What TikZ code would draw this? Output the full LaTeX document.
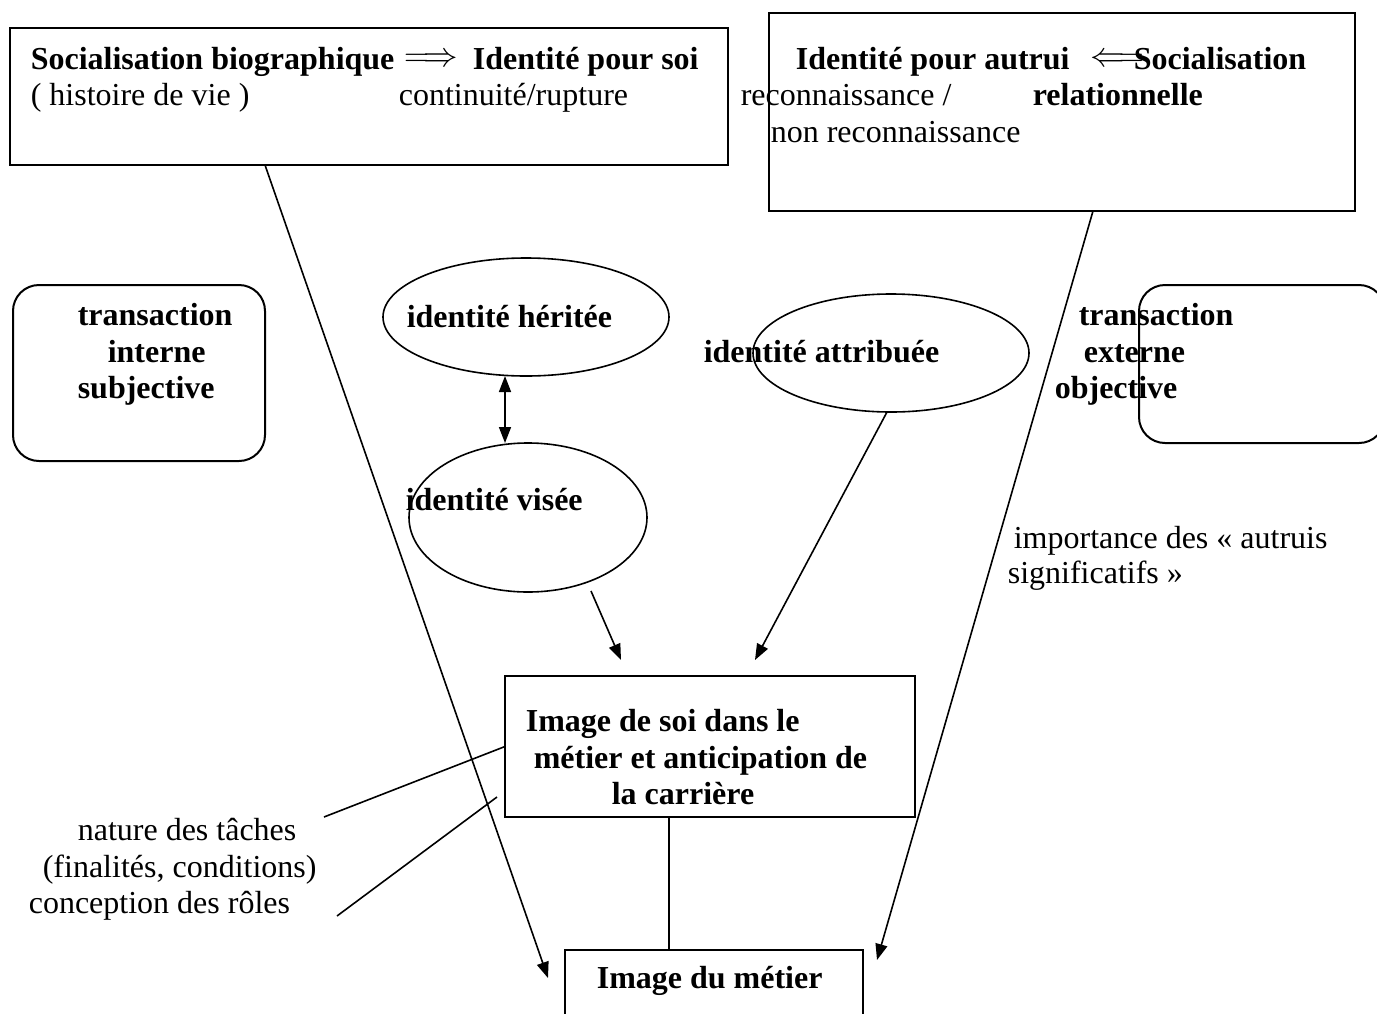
\documentclass[tikz,border=0pt]{standalone}
\usepackage{fontspec}
\setmainfont{Liberation Serif}
\usetikzlibrary{shapes.geometric,arrows.meta}
\begin{document}
\begin{tikzpicture}[x=0.5pt, y=-0.5pt, line width=0.8pt,
  >={Triangle[length=8pt,width=6pt]},
  box/.style={draw, line width=1pt, rectangle, outer sep=0pt},
  rbox/.style={draw, line width=1pt, rectangle, rounded corners=13pt, outer sep=0pt},
  oval/.style={draw, ellipse, outer sep=0pt},
  txt/.style={anchor=base west, inner sep=0pt, font=\fontsize{16pt}{18.5pt}\selectfont},
  bf/.style={txt, font=\fontsize{16pt}{18.5pt}\selectfont\bfseries}]
\useasboundingbox (0,0) rectangle (1377,1013);
% frames
\node[box, minimum width=359pt, minimum height=68.5pt] (bio) at (369,96.5) {};
\node[box, minimum width=293pt, minimum height=99pt] (autrui) at (1062,112) {};
\node[rbox, minimum width=126pt, minimum height=88pt] (tinterne) at (139,373) {};
\node[rbox, minimum width=123pt, minimum height=79pt] (texterne) at (1262,364) {};
\node[oval, minimum width=143pt, minimum height=59pt] (herit) at (526,317) {};
\node[oval, minimum width=119pt, minimum height=74.5pt] (visee) at (528,517.5) {};
\node[oval, minimum width=138pt, minimum height=59pt] (attrib) at (891,353) {};
\node[box, minimum width=205pt, minimum height=70.5pt] (soi) at (710,746.5) {};
\node[box, minimum width=149pt, minimum height=50pt] (metier) at (714,1000) {};
% texts
\node[bf] (sbio) at (30,69) {Socialisation biographique};
\node[font=\fontsize{16pt}{18.5pt}\selectfont, inner sep=0pt] (imp1) at (431,60) {$\Longrightarrow$};
\node[bf] (ipsoi) at (472,69) {Identité pour soi};
\node[txt] (hist) at (30,105) {( histoire de vie )};
\node[txt] (cont) at (398,105) {continuité/rupture};
\node[bf] (ipaut) at (795,69) {Identité pour autrui};
\node[font=\fontsize{16pt}{18.5pt}\selectfont, inner sep=0pt] (imp2) at (1117,60) {$\Longleftarrow$};
\node[bf] (srel1) at (1133,69) {Socialisation};
\node[bf] (srel2) at (1032,105) {relationnelle};
\node[txt] (reco1) at (740,105) {reconnaissance /};
\node[txt] (reco2) at (770,142) {non reconnaissance};
\node[bf] (ti1) at (77,325) {transaction};
\node[bf] (ti2) at (107,362) {interne};
\node[bf] (ti3) at (77,398) {subjective};
\node[bf] (te1) at (1078,325) {transaction};
\node[bf] (te2) at (1083,362) {externe};
\node[bf] (te3) at (1054,398) {objective};
\node[bf] (lherit) at (406,327) {identité héritée};
\node[bf] (lattrib) at (703,362) {identité attribuée};
\node[bf] (lvisee) at (405,510) {identité visée};
\node[bf] (soi1) at (525,731) {Image de soi dans le};
\node[bf] (soi2) at (533,768) {métier et anticipation de};
\node[bf] (soi3) at (611,804) {la carrière};
\node[bf] (lmetier) at (596,988) {Image du métier};
\node[txt] (nat1) at (77,840) {nature des tâches};
\node[txt] (nat2) at (42,877) {(finalités, conditions)};
\node[txt] (nat3) at (28,913) {conception des rôles};
\node[txt] (sig1) at (1013,548) {importance des « autruis};
\node[txt] (sig2) at (1007,583) {significatifs »};
% free ends
\coordinate (b1) at (265,165);
\coordinate (t1) at (548,978);
\coordinate (b2) at (1093,211);
\coordinate (t2) at (877,960);
\coordinate (va) at (591,591);
\coordinate (vb) at (621,660);
\coordinate (ab) at (755,660);
\coordinate (n1) at (324,817);
\coordinate (n2) at (337,916);
\coordinate (n3) at (497,797);
% connectors
\draw[->] (b1) -- (t1);
\draw[->] (b2) -- (t2);
\draw[<->] ([xshift=-10.5pt]herit.south) -- ([xshift=-10.5pt]herit.south |- visee.north);
\draw[->] (va) -- (vb);
\draw[->] ([xshift=-2pt]attrib.south) -- (ab);
\draw (soi.south -| 669,0) -- (metier.north -| 669,0);
\draw (n1) -- (soi.west);
\draw (n2) -- (n3);
\end{tikzpicture}
\end{document}
